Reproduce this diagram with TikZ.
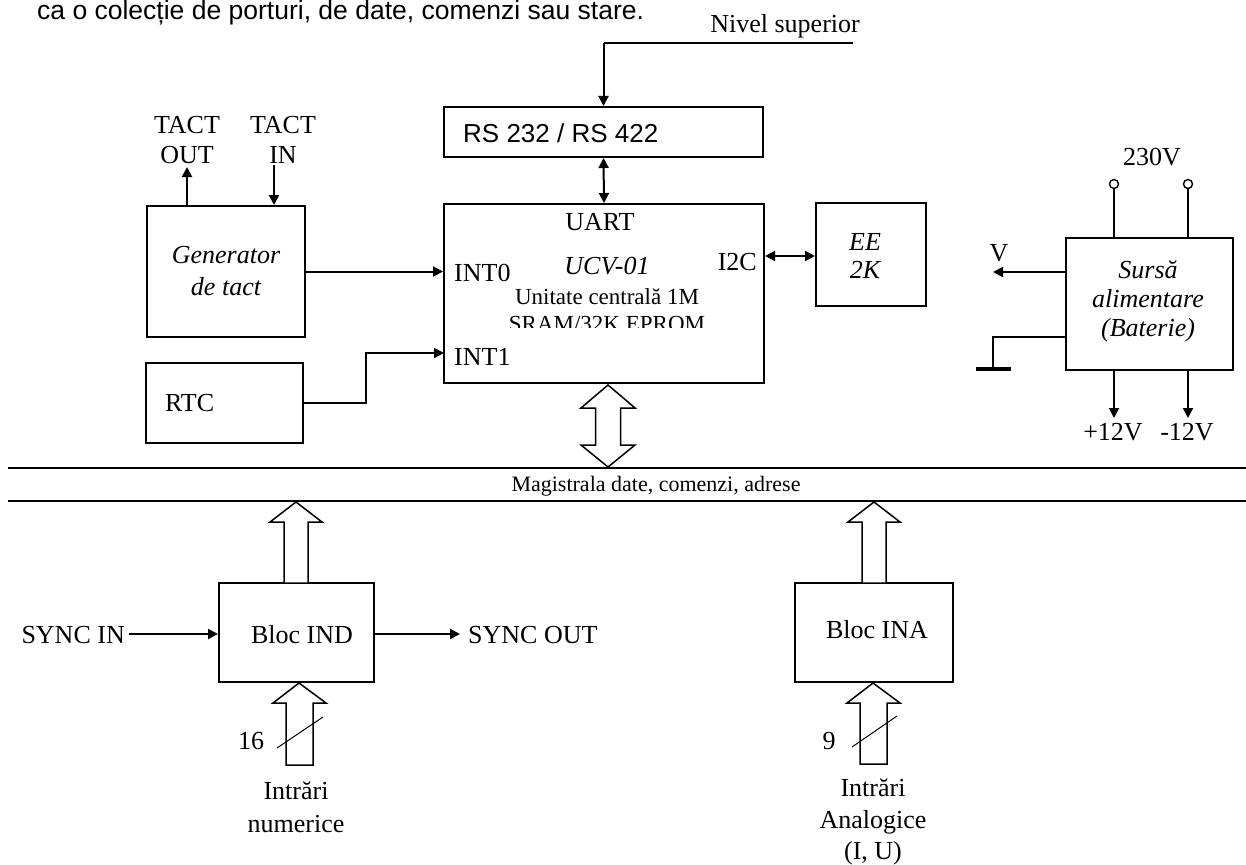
\documentclass[tikz,border=0pt]{standalone}
\usepackage{fontspec}
\setmainfont{Liberation Serif}
\newfontfamily\arialf{Liberation Sans}
\usetikzlibrary{arrows.meta,calc}
\begin{document}
\begin{tikzpicture}[x=1pt,y=-1pt,
  box/.style={draw, line width=2pt, rectangle, inner sep=0pt},
  lbl/.style={inner sep=0pt, font=\fontsize{26}{30}\selectfont},
  arr/.style={-{Triangle[length=10pt,width=10pt]}, line width=2pt},
  darr/.style={{Triangle[length=10pt,width=10pt]}-{Triangle[length=10pt,width=10pt]}, line width=2pt},
  wire/.style={line width=2pt},
  bigarrow/.style={draw, fill=white, line width=1.5pt, line join=miter},
  busline/.style={line width=1.7pt},
  slash/.style={line width=1pt}]
\useasboundingbox (0,0) rectangle (1246,864);

% top text
\node[inner sep=0pt, anchor=base west, font=\arialf\fontsize{26.5}{30}\selectfont] (toptext) at (37,20) {ca o colecție de porturi, de date, comenzi sau stare.};
\node[lbl, anchor=base east] (nivel) at (860,33) {Nivel superior};

% boxes
\node[box, minimum width=319pt, minimum height=50pt] (rs) at (603.5,132) {};
\node[inner sep=0pt, anchor=west, font=\arialf\fontsize{26}{30}\selectfont] (rstext) at (463,133) {RS 232 / RS 422};
\node[box, minimum width=320pt, minimum height=179pt] (ucv) at (604,293.5) {};
\node[box, minimum width=110pt, minimum height=103pt] (ee) at (871,254.5) {};
\node[box, minimum width=158pt, minimum height=131pt] (gen) at (226,271.5) {};
\node[box, minimum width=157pt, minimum height=80pt] (rtc) at (224.5,403) {};
\node[box, minimum width=167pt, minimum height=132pt] (src) at (1149.5,304) {};
\node[box, minimum width=155pt, minimum height=99pt] (ind) at (296.5,632.5) {};
\node[box, minimum width=158pt, minimum height=99pt] (ina) at (874,632.5) {};

% texts in boxes
\node[lbl] (uart) at (600,222) {UART};
\node[lbl, anchor=west] (int0) at (454,273) {INT0};
\node[lbl, anchor=west] (int1) at (454,357) {INT1};
\node[lbl, anchor=east] (i2c) at (757,262) {I2C};
\node[lbl, font=\fontsize{26}{30}\selectfont\itshape] (ucvname) at (607,266) {UCV-01};
\node[inner sep=0pt, font=\fontsize{23}{26}\selectfont] (unit) at (607,297) {Unitate centrală 1M};
\begin{scope}
\clip (444,204) rectangle (764,327);
\node[inner sep=0pt, font=\fontsize{23}{26}\selectfont] (sram) at (607,324) {SRAM/32K EPROM};
\end{scope}
\node[lbl, align=center, font=\fontsize{26}{28}\selectfont\itshape] (eetext) at (865,256) {EE\\2K};
\node[lbl, align=center, font=\fontsize{26}{32}\selectfont\itshape] (gentext) at (226,271) {Generator\\de tact};
\node[lbl, anchor=west] (rtctext) at (165,403) {RTC};
\node[lbl, align=center, font=\fontsize{26}{29}\selectfont\itshape] (srctext) at (1148,301) {Sursă\\alimentare\\(Baterie)};
\node[lbl] (indtext) at (302,635) {Bloc IND};
\node[lbl] (inatext) at (877,630) {Bloc INA};

% TACT labels
\node[lbl, align=center, font=\fontsize{26}{30}\selectfont] (tactout) at (187,140) {TACT\\OUT};
\node[lbl, align=center, font=\fontsize{26}{30}\selectfont] (tactin) at (283,140) {TACT\\IN};

% connectors top
\coordinate (niv) at (853,43);
\draw[wire] (niv) -- (niv -| rs.north);
\draw[arr] (niv -| rs.north) -- (rs.north);
\draw[darr] (rs.south) -- (ucv.north);
\draw[darr] (ucv.east |- 0,256) -- (ee.west |- 0,256);
\draw[arr] (gen.east) -- (gen.east -| ucv.west);
\coordinate (i1) at (444,353);
\draw[arr] (rtc.east) -- ++(62,0) |- (i1);
\coordinate (tout) at (187,167);
\draw[arr] (tout |- gen.north) -- (tout);
\coordinate (tin) at (274,165);
\draw[arr] (tin) -- (tin |- gen.north);

% power supply
\node[lbl] (v230) at (1152,157) {230V};
\node[circle, draw, line width=1.4pt, minimum size=9pt, inner sep=0pt] (t1) at (1114,184) {};
\node[circle, draw, line width=1.4pt, minimum size=9pt, inner sep=0pt] (t2) at (1188,184) {};
\draw[wire] (t1.south) -- (t1.south |- src.north);
\draw[wire] (t2.south) -- (t2.south |- src.north);
\coordinate (vend) at (993,272);
\draw[arr] (src.west |- vend) -- (vend);
\node[lbl] (vlbl) at (999,253) {V};
\coordinate (gnd) at (993,369);
\coordinate (gsrc) at (1066,337);
\draw[line width=1.6pt] (gsrc) -| (gnd);
\draw[line width=3.5pt] ($(gnd)+(-17,0)$) -- ($(gnd)+(18,0)$);
\coordinate (p12) at (1114,418);
\coordinate (m12) at (1188,418);
\draw[arr] (p12 |- src.south) -- (p12);
\draw[arr] (m12 |- src.south) -- (m12);
\node[lbl] (p12l) at (1113,432) {+12V};
\node[lbl] (m12l) at (1187,432) {-12V};

% bus
\coordinate (busTL) at (8,468);
\coordinate (busTR) at (1246,468);
\coordinate (busBL) at (8,501);
\coordinate (busBR) at (1246,501);
\draw[busline] (busTL) -- (busTR);
\draw[busline] (busBL) -- (busBR);
\node[inner sep=0pt, font=\fontsize{22}{26}\selectfont] (buslbl) at (656,486) {Magistrala date, comenzi, adrese};

% big arrows
\draw[bigarrow] (608,385) -- (635,408) -- (620.5,408) -- (620.5,445) -- (635,445) -- (608,467)
  -- (581,445) -- (595.5,445) -- (595.5,408) -- (581,408) -- cycle;
\draw[bigarrow] (296,502) -- (322,522) -- (308,522) -- (308,583) -- (284,583) -- (284,522) -- (270,522) -- cycle;
\draw[bigarrow] (874,502) -- (900,522) -- (886,522) -- (886,583) -- (862,583) -- (862,522) -- (848,522) -- cycle;
\draw[bigarrow] (299,683) -- (326,703) -- (313,703) -- (313,765) -- (286,765) -- (286,703) -- (273,703) -- cycle;
\draw[bigarrow] (873,683) -- (900,703) -- (887,703) -- (887,764) -- (860,764) -- (860,703) -- (847,703) -- cycle;
\draw[slash] (277,748) -- (323,717);
\draw[slash] (852,747) -- (897,716);
\node[lbl] (n16) at (251,741) {16};
\node[lbl] (n9) at (829,741) {9};
\node[lbl, align=center, font=\fontsize{26}{33}\selectfont] (inum) at (296,807) {Intrări\\numerice};
\node[lbl, align=center, font=\fontsize{26}{31.5}\selectfont] (iana) at (873,822) {Intrări\\Analogice\\(I, U)};

% sync
\node[lbl, anchor=east] (syncin) at (125,635) {SYNC IN};
\draw[arr] (129,634) -- (ind.west |- 0,634);
\node[lbl, anchor=west] (syncout) at (468,635) {SYNC OUT};
\draw[arr] (ind.east |- 0,634) -- (460,634);
\end{tikzpicture}
\end{document}
